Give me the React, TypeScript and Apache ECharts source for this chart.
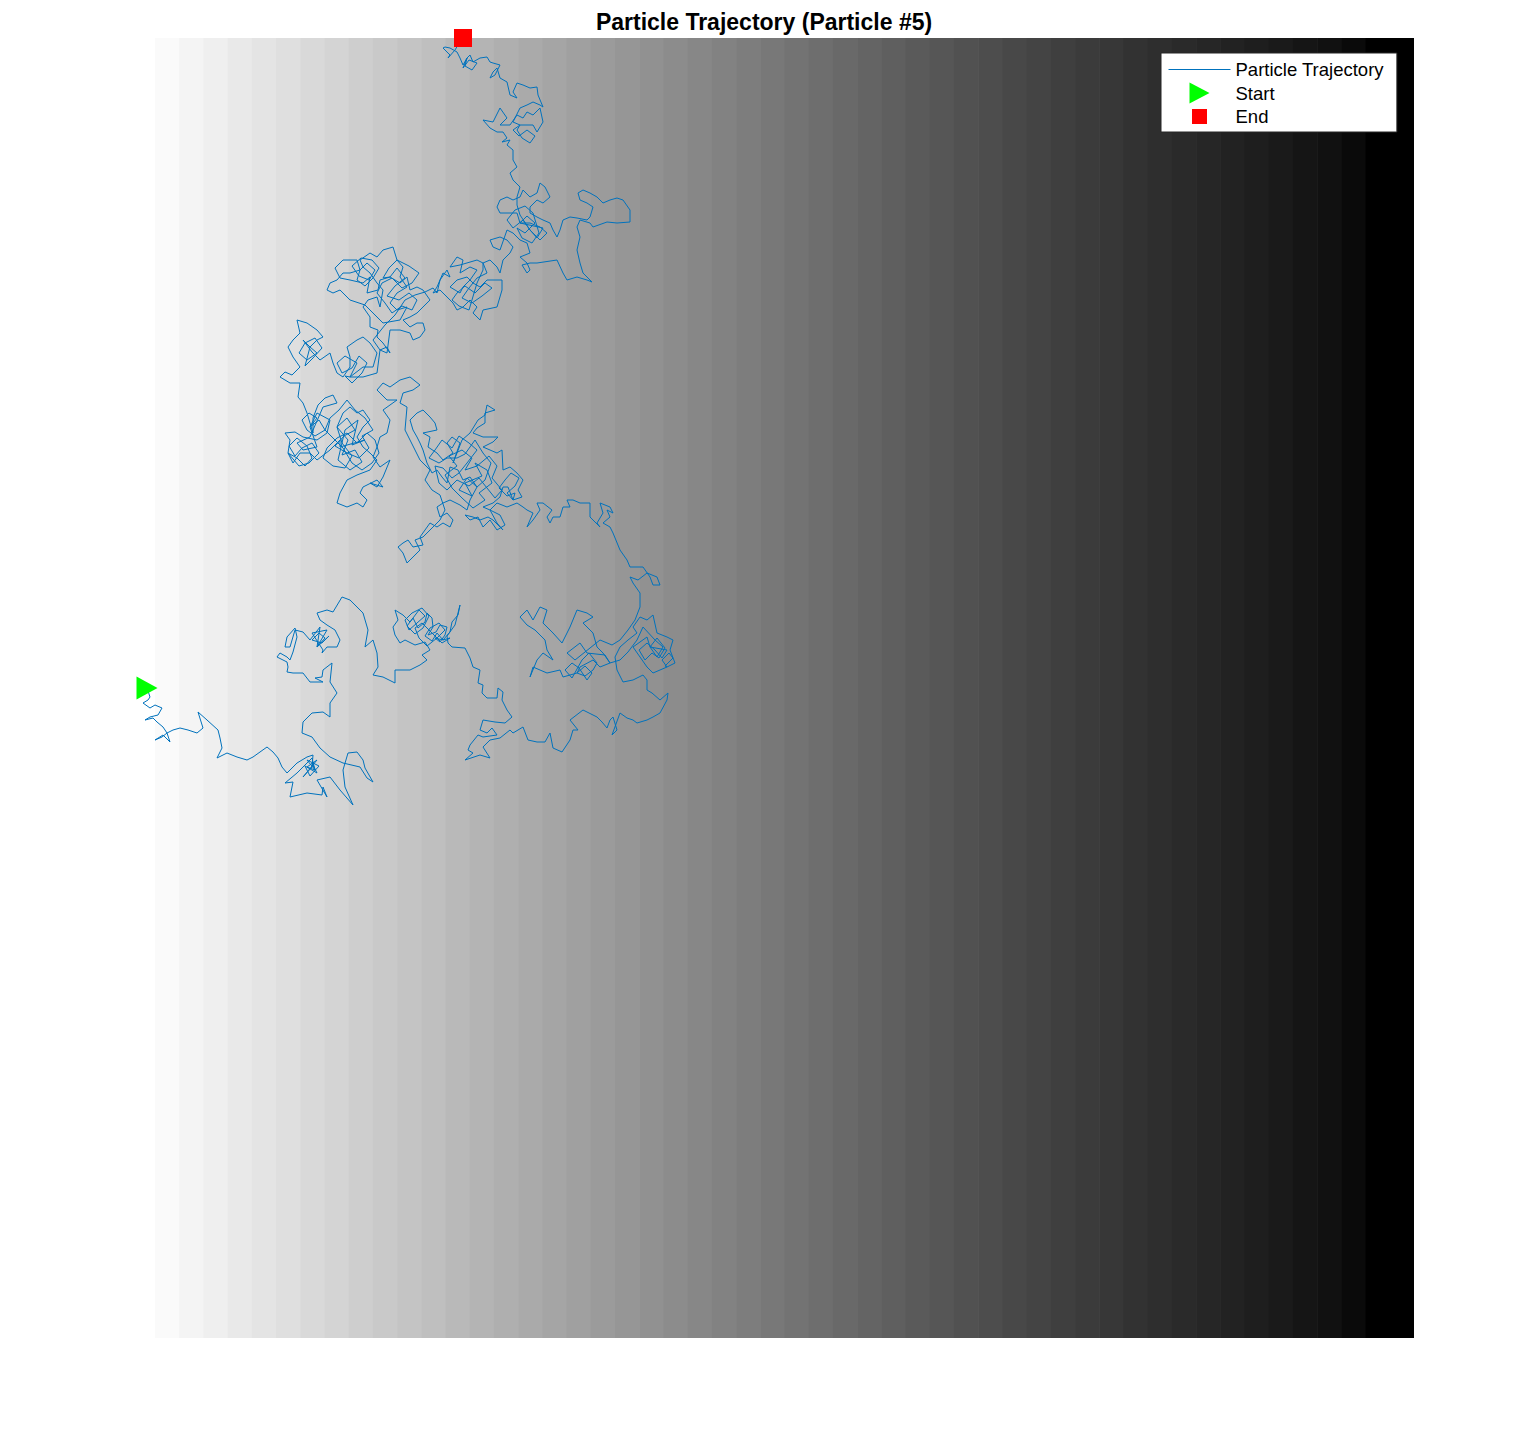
import React, { useEffect, useRef } from "react";
import * as echarts from "echarts";

const TITLE = "Particle Trajectory (Particle #5)";
const LEGEND_NAMES = ["Particle Trajectory", "Start", "End"];
const DOMAIN_Y = [0, 1300];
const IMAGE_X = [8, 1267];
const AXIS_X = [-11, 1267];

// gray level (0-255) of each column of the background field, left to right
const bandGray = [
  250, 244, 239, 233, 228, 223, 217, 212, 206, 201, 196, 191, 185, 180, 175, 170, 165, 160, 155, 150,
  145, 140, 135, 130, 125, 120, 115, 110, 105, 100, 95, 90, 86, 81, 77, 72, 68, 63, 59, 55,
  50, 46, 42, 38, 34, 30, 26, 21, 17, 10, 0, 0,
];

const startPoint = [0, 650];
const endPoint = [316, 0];

const segStart = [
  [0, 650], [3, 659], [1, 662], [-4, 665], [3, 670], [8, 667], [15, 670], [11, 677], [3, 679], [-2, 682],
  [6, 680], [10, 684], [16, 689], [20, 695], [15, 699], [8, 702], [16, 697], [23, 704], [20, 695], [26, 692],
  [33, 690], [41, 692], [50, 695], [56, 690], [51, 674], [60, 682], [71, 692], [73, 700], [75, 710], [70, 720],
  [80, 715], [90, 719], [100, 722], [106, 719], [120, 709], [126, 714], [131, 720], [135, 729], [140, 735],
];

const segLowerLeft = [
  [143, 732], [150, 725], [160, 719], [166, 717], [165, 729], [156, 739], [170, 722], [160, 729], [168, 732],
  [160, 722], [172, 728], [163, 738], [158, 728], [170, 735], [165, 725], [168, 732], [165, 720],
  [150, 735], [138, 745], [146, 744], [143, 759], [160, 755], [175, 757], [176, 749], [180, 759], [170, 742], [183, 739],
  [193, 752], [206, 767], [198, 749], [196, 732], [201, 715], [210, 714], [216, 722], [218, 730], [226, 744], [220, 740],
  [213, 729], [196, 725], [183, 719], [173, 710], [165, 699], [155, 695], [156, 684], [165, 675], [176, 674], [183, 679],
  [183, 665], [190, 655], [183, 644], [185, 625], [176, 632], [175, 639], [168, 640], [176, 644], [163, 644], [156, 635],
  [146, 635], [140, 634], [141, 629], [140, 624], [130, 619], [133, 615], [140, 619], [143, 622], [146, 614], [150, 599],
  [148, 590], [140, 599], [138, 609], [143, 609], [148, 592], [156, 594], [163, 602], [173, 589], [170, 609],
  [178, 600], [172, 595], [165, 602], [175, 605], [182, 598], [170, 609], [180, 592],
  [165, 595], [176, 612], [175, 615], [180, 609], [190, 609], [193, 602], [188, 592], [180, 587], [173, 582], [170, 575],
  [180, 572], [186, 574], [195, 559], [203, 562], [210, 569], [216, 575], [221, 592], [218, 609], [226, 602], [230, 615],
  [231, 629], [226, 637], [236, 639], [248, 645], [248, 632], [263, 632],
];

const segLoop = [
  [273, 627], [280, 622], [275, 617], [283, 612], [278, 604], [268, 607], [258, 602], [253, 605], [248, 597],
  [246, 589], [251, 582], [248, 572], [256, 577], [263, 584], [266, 580],
  [272, 572], [278, 578], [270, 585], [262, 592], [258, 582], [265, 575], [275, 570], [282, 578], [276, 590], [268, 596],
  [260, 588], [266, 580], [271, 590], [278, 584], [280, 575], [285, 580],
  [286, 589], [281, 597], [289, 594], [293, 587], [300, 589], [298, 597], [293, 604], [288, 600], [296, 602],
  [290, 595], [285, 603], [278, 598], [283, 590], [292, 585], [298, 592], [290, 600], [280, 608], [272, 600], [268, 590],
  [275, 585], [285, 595], [295, 605], [303, 600], [296, 602], [303, 594],
  [305, 584], [311, 577], [313, 567], [308, 587], [300, 598], [301, 605], [305, 609], [318, 610], [323, 620], [326, 629],
  [333, 632], [331, 645], [336, 647], [335, 655], [340, 660], [350, 660], [351, 650], [356, 654], [355, 662], [360, 672],
  [365, 679], [358, 685], [348, 684], [336, 682], [333, 692], [340, 695], [345, 690], [350, 697], [336, 699], [331, 697],
  [323, 707], [321, 712], [326, 715], [318, 722], [333, 717], [343, 720], [336, 709], [343, 702], [353, 700], [363, 692],
  [366, 695], [376, 689], [381, 702], [390, 704], [398, 704], [403, 695], [406, 710], [415, 714], [423, 702], [426, 692],
  [431, 692], [423, 682], [436, 672], [450, 679], [455, 684], [460, 690], [463, 682], [466, 679], [470, 692], [465, 697],
  [473, 675], [480, 680], [486, 682], [490, 685], [500, 682], [506, 679], [513, 675], [520, 662], [521, 655], [513, 662],
  [505, 655], [500, 652], [500, 642], [496, 637],
];

const segRightCluster = [
  [486, 642], [476, 644], [470, 632], [468, 619], [473, 609], [481, 602], [490, 595], [486, 589], [493, 579],
  [500, 582], [506, 577], [510, 595], [520, 599], [526, 602], [523, 612], [528, 625], [520, 629],
  [515, 622], [522, 615], [526, 620], [518, 628], [520, 629], [513, 632], [506, 635],
  [500, 629], [493, 619], [486, 609], [500, 599], [503, 609],
  [510, 600], [518, 610], [512, 620], [505, 615], [498, 622], [492, 612], [500, 605], [508, 612], [515, 620], [520, 612],
  [503, 609], [510, 619], [516, 609], [508, 602], [496, 589], [490, 602],
  [481, 614], [473, 622], [463, 625], [456, 615], [450, 609], [446, 595], [436, 585], [446, 579], [440, 575], [430, 572],
  [423, 589], [415, 605], [406, 595], [396, 585], [400, 572], [393, 569], [386, 582], [380, 572], [373, 579], [380, 587],
  [388, 592], [398, 602], [400, 612], [406, 622], [396, 615], [390, 622], [383, 639], [386, 629], [400, 635], [413, 632],
  [416, 639], [430, 635],
  [438, 628], [445, 635], [440, 642], [432, 630], [425, 625], [418, 632], [425, 640], [435, 622], [442, 615], [450, 625],
  [446, 632], [438, 638], [430, 635], [433, 629], [446, 622], [453, 629], [463, 625], [458, 617], [440, 615], [433, 605], [420, 615],
  [428, 622], [443, 610], [453, 602], [465, 607], [473, 602], [481, 592], [488, 582], [493, 569], [493, 555], [486, 545],
  [483, 539], [491, 542], [500, 535], [510, 539], [513, 547], [506, 547], [503, 539], [496, 529], [483, 529], [480, 522],
  [473, 512], [466, 495], [463, 489], [456, 485], [463, 479], [460, 472], [466, 475], [463, 469], [453, 465],
];

const segMiddle = [
  [456, 475], [450, 485], [453, 489], [443, 479], [443, 465], [433, 465], [426, 462], [420, 462], [423, 469], [416, 469],
  [413, 479], [406, 479], [403, 485], [400, 479], [405, 472], [396, 465], [390, 465], [393, 472], [386, 482], [380, 489],
  [386, 475], [380, 472], [376, 469], [370, 465], [360, 469], [350, 465], [343, 472], [353, 477], [358, 487], [350, 492],
  [343, 482], [336, 489], [331, 479], [323, 482], [318, 477], [326, 479], [333, 482], [341, 479], [346, 482], [356, 492],
  [350, 485], [343, 472], [336, 469], [346, 465], [353, 459], [356, 449], [361, 449], [366, 462],
  [360, 455], [368, 448], [372, 440], [364, 435], [358, 442], [352, 450], [360, 458], [368, 455], [366, 462],
  [375, 459], [371, 452],
  [376, 442], [370, 435], [363, 429], [356, 432], [355, 412], [350, 415], [336, 409], [346, 404], [351, 399], [336, 399],
  [326, 395], [330, 390], [338, 385], [338, 375], [348, 372], [340, 367], [338, 377], [331, 382], [323, 395], [315, 402],
  [310, 415], [306, 425], [313, 405], [305, 399], [300, 405], [306, 415], [296, 422], [290, 415], [281, 409], [283, 399],
  [276, 395], [290, 392], [288, 385], [283, 379], [276, 372], [270, 375], [263, 382], [266, 392], [270, 399], [273, 405],
  [276, 412], [280, 425], [285, 435], [290, 432], [295, 439], [300, 445], [303, 429], [311, 432], [316, 442], [323, 439],
  [330, 449],
  [320, 440], [312, 452], [325, 458], [318, 445], [335, 438], [328, 425], [340, 432], [345, 445], [332, 455], [338, 462],
  [326, 470], [315, 460], [305, 450], [298, 437], [310, 428], [302, 418], [315, 412], [325, 420], [318, 432], [330, 428],
  [342, 418], [350, 428], [345, 440], [355, 452], [348, 460], [340, 450], [332, 440], [322, 448], [310, 442], [300, 452],
  [292, 445], [288, 428], [296, 430], [305, 440], [312, 435], [320, 425], [330, 412], [322, 405], [312, 398], [305, 410],
  [295, 402], [288, 412], [282, 420], [292, 425], [300, 420], [310, 420], [318, 416], [328, 402], [336, 415], [344, 425],
  [338, 442], [330, 449], [323, 462], [320, 472], [313, 467], [303, 462], [296, 465], [290, 469], [293, 479], [300, 475], [306, 482],
  [303, 489], [296, 485], [290, 489], [283, 485], [278, 492], [273, 499], [276, 507], [266, 509], [261, 502], [256, 505],
  [251, 509], [256, 515], [260, 525], [266, 519], [273, 512], [268, 502], [276, 499], [283, 492], [293, 482], [298, 472],
  [293, 457], [285, 452], [278, 442], [283, 432], [273, 422], [268, 412], [263, 402], [258, 392], [260, 369], [253, 365],
  [256, 355], [266, 352], [273, 347], [263, 339], [253, 342], [243, 349], [236, 345], [230, 352], [240, 362], [250, 362],
  [236, 372], [243, 382], [240, 395], [233, 399], [230, 409], [226, 419], [233, 429], [243, 422], [236, 439], [230, 449],
  [223, 445],
];

const segMidLeft = [
  [236, 449], [230, 442], [216, 449], [213, 455], [220, 462], [216, 469], [210, 465], [200, 469], [190, 465], [193, 455],
  [200, 442], [210, 437], [223, 432], [230, 422], [223, 415], [216, 409], [210, 399], [216, 389], [223, 382], [216, 372],
  [210, 375], [203, 369], [196, 375], [190, 389],
  [200, 380], [208, 392], [197, 398], [188, 408], [200, 415], [212, 420], [222, 410], [215, 398], [226, 392], [218, 380],
  [208, 372], [200, 362], [192, 372], [183, 380], [178, 392], [186, 400], [196, 410], [205, 425], [215, 432], [225, 425],
  [232, 415], [228, 402], [220, 395], [210, 405], [200, 395], [190, 400], [180, 410], [176, 420], [186, 428], [198, 430],
  [205, 418], [195, 405], [190, 389],
  [201, 402], [195, 417], [208, 412], [215, 424], [203, 432], [191, 422],
  [198, 392], [211, 382], [205, 407], [218, 402], [193, 409], [193, 402], [183, 412], [170, 422], [163, 415], [153, 415],
  [146, 425], [141, 415],
  [150, 420], [158, 428], [165, 420], [160, 408], [150, 400], [142, 408], [148, 418], [155, 410], [165, 405], [172, 415],
  [162, 425], [152, 428], [141, 415], [143, 402], [138, 395], [148, 394], [156, 399], [170, 402], [180, 395], [183, 382], [170, 375],
  [163, 389],
  [172, 382], [178, 392], [168, 398], [160, 392], [155, 382], [162, 375], [170, 380], [163, 389],
  [170, 409], [156, 412], [150, 405], [163, 399], [176, 369], [190, 365], [186, 357], [178, 360], [171, 367],
  [166, 380], [166, 395], [160, 375], [156, 365], [151, 359], [153, 345], [143, 345], [133, 339], [138, 334], [145, 337],
];

const segUpperLeft = [
  [153, 329], [146, 319], [141, 309], [146, 302], [153, 295], [150, 282], [160, 285], [170, 292], [176, 299], [170, 302],
  [163, 309],
  [170, 315], [160, 322], [152, 315], [158, 305], [168, 300], [175, 310], [166, 320], [158, 328], [163, 309],
  [156, 302], [165, 314], [173, 322], [183, 315], [186, 325], [190, 335], [196, 339], [203, 329], [203, 319],
  [200, 309], [210, 302], [216, 299], [223, 305], [230, 315], [226, 329], [216, 329], [203, 339],
  [210, 325], [198, 318], [190, 325], [195, 335], [205, 330], [212, 318], [220, 325], [215, 335], [205, 345], [198, 338],
  [203, 339], [216, 339], [230, 335],
  [233, 312], [240, 309], [243, 315], [236, 305], [230, 299], [231, 292], [223, 289], [223, 279], [216, 269], [221, 262],
  [230, 259], [233, 269], [236, 252], [230, 245], [223, 235], [216, 229], [213, 222], [223, 215], [230, 219], [236, 212],
  [246, 209], [250, 222], [256, 229], [253, 239], [260, 249], [250, 255], [243, 265], [250, 272], [260, 269], [253, 282],
  [236, 285], [228, 277], [218, 267], [203, 262], [193, 252], [186, 255], [180, 252], [183, 245], [190, 242], [196, 235],
  [203, 235], [213, 232],
  [220, 225], [228, 232], [222, 242], [212, 238], [205, 228], [214, 220], [225, 222], [232, 230], [226, 240], [218, 248],
  [210, 242], [213, 232], [210, 222], [196, 222], [188, 230], [193, 240], [203, 242], [216, 245], [223, 239], [220, 255],
  [231, 252], [233, 242], [243, 239],
  [250, 230], [258, 240], [248, 248], [240, 258], [252, 262], [262, 255], [270, 262], [265, 272], [255, 268], [245, 275],
  [238, 265], [230, 255], [235, 245], [245, 240], [255, 250], [265, 245], [272, 235], [262, 228], [250, 222], [242, 230],
  [236, 240], [243, 239], [253, 245], [260, 239], [263, 252], [270, 249], [276, 252], [283, 262], [276, 269],
  [270, 275], [263, 279], [256, 282], [263, 289], [270, 285], [276, 285], [278, 292], [273, 299], [266, 302], [263, 295],
  [253, 292], [243, 292], [240, 315], [233, 312], [226, 302], [238, 287], [248, 277], [258, 262], [268, 257], [278, 254],
  [286, 250], [290, 255], [293, 242], [300, 232], [303, 239],
];

const segUpperMiddle = [
  [296, 235], [290, 249], [286, 255], [293, 252], [300, 259], [306, 265], [310, 272], [316, 269], [323, 262], [330, 269],
  [326, 275], [333, 282], [336, 272], [350, 269], [355, 252], [355, 242], [346, 242], [340, 242], [333, 249], [326, 245],
  [320, 239], [310, 242], [303, 249], [313, 255], [316, 249], [323, 242], [330, 232], [323, 229], [313, 235], [316, 222],
  [310, 219], [303, 229], [313, 227], [330, 222], [336, 225],
  [340, 235], [330, 240], [322, 250], [315, 260], [325, 265], [335, 258], [345, 250], [338, 245], [328, 255], [318, 248],
  [310, 255], [305, 262], [312, 268], [322, 272], [330, 245], [336, 232], [336, 225],
  [343, 222], [350, 229], [353, 235], [356, 222], [363, 215],
  [366, 209], [360, 202], [353, 199], [343, 202], [346, 209], [353, 212], [360, 192], [366, 195], [373, 202], [380, 205],
  [383, 215], [373, 219], [380, 225], [383, 232], [380, 235], [375, 227], [383, 225], [390, 225], [410, 222], [416, 235],
  [420, 242], [430, 239], [440, 242], [445, 244], [436, 235], [433, 225], [430, 212], [433, 199], [430, 189], [433, 182],
  [443, 185], [446, 189], [460, 184], [470, 185], [483, 184], [483, 172], [476, 162], [470, 160], [463, 162], [456, 165],
  [450, 159], [443, 155], [436, 152], [431, 155], [433, 162], [440, 165], [446, 169], [443, 179], [440, 182], [430, 180],
  [423, 179], [416, 182], [413, 192], [410, 199], [406, 192], [403, 185], [396, 182], [390, 179], [383, 175], [383, 169],
  [390, 162], [396, 165], [403, 159], [398, 149], [393, 145], [390, 155], [383, 159], [376, 152], [373, 159], [366, 162],
  [360, 159], [353, 162], [350, 169], [353, 175], [360, 175], [370, 175], [373, 185],
  [380, 178], [388, 185], [378, 195], [370, 190], [375, 200], [385, 205], [392, 195], [386, 175], [378, 168], [368, 172],
  [360, 182], [366, 190], [376, 182], [383, 192], [390, 200], [396, 190], [373, 185],
  [383, 185], [393, 189], [400, 195],
  [393, 202], [383, 192], [373, 177], [370, 167], [370, 159], [373, 149], [366, 142], [363, 135], [370, 129], [366, 122],
  [366, 112], [360, 107], [363, 102], [355, 104],
];

const segTop = [
  [360, 100], [356, 94], [350, 94], [343, 90], [336, 82], [346, 84], [353, 70], [360, 80], [353, 87], [363, 87],
  [370, 77], [376, 80], [380, 74], [386, 77], [393, 70], [396, 84], [390, 94], [386, 87], [380, 87], [373, 87],
  [366, 92], [372, 98], [380, 92], [388, 98], [383, 105], [375, 100], [370, 92], [373, 87],
  [366, 84], [373, 70], [380, 67], [386, 64], [393, 67], [396, 69], [391, 57], [390, 49], [383, 50], [376, 47],
  [370, 45], [366, 54], [370, 60], [363, 57], [360, 44], [353, 40], [350, 30], [346, 34], [343, 40], [348, 37],
  [353, 27], [346, 25], [343, 24], [340, 19], [333, 20], [326, 24], [323, 17], [320, 20],
  [318, 28], [325, 32], [330, 25], [322, 22], [316, 30], [320, 20], [316, 27], [313, 20],
  [310, 14], [303, 10], [298, 9], [296, 10], [303, 17], [301, 20], [308, 12], [311, 7], [315, 5], [316, 0],
];

const trajectory = [
  ...segStart, ...segLowerLeft, ...segLoop, ...segRightCluster, ...segMiddle,
  ...segMidLeft, ...segUpperLeft, ...segUpperMiddle, ...segTop,
];

const FONT = "'Liberation Sans', Arial, Helvetica, sans-serif";
const LINE_COLOR = "#0072BD";

export default function App() {
  const ref = useRef<HTMLDivElement>(null);
  useEffect(() => {
    if (!ref.current) return;
    const chart = echarts.init(ref.current, null, { renderer: "svg" });
    const bandW = (IMAGE_X[1] - IMAGE_X[0]) / bandGray.length;
    chart.setOption({
      animation: false,
      backgroundColor: "#ffffff",
      title: {
        text: TITLE,
        left: 764,
        top: 10,
        padding: 0,
        textAlign: "center",
        textStyle: { fontSize: 23, fontWeight: "bold", color: "#000", fontFamily: FONT },
      },
      legend: {
        data: [
          { name: LEGEND_NAMES[0], itemStyle: { opacity: 0 }, lineStyle: { color: LINE_COLOR, width: 1 } },
          { name: LEGEND_NAMES[1], icon: "path://M0 0L20 10.5L0 21Z", itemStyle: { color: "#00FF00" } },
          { name: LEGEND_NAMES[2], icon: "path://M0 0L0 0M3 3H18V18H3ZM21 21L21 21", itemStyle: { color: "#FF0000" } },
        ],
        orient: "vertical",
        left: 1161,
        top: 53,
        padding: [6, 13, 5, 7],
        itemWidth: 62,
        itemHeight: 21,
        itemGap: 2.5,
        backgroundColor: "#ffffff",
        borderColor: "#262626",
        borderWidth: 1,
        selectedMode: false,
        textStyle: { fontSize: 18.5, lineHeight: 21, color: "#000", fontFamily: FONT },
      },
      grid: { left: 136, top: 38, width: 1278, height: 1300, containLabel: false },
      xAxis: { type: "value", min: AXIS_X[0], max: AXIS_X[1], show: false },
      yAxis: { type: "value", min: DOMAIN_Y[0], max: DOMAIN_Y[1], inverse: true, show: false },
      series: [
        {
          type: "custom",
          name: "field",
          silent: true,
          z: 1,
          clip: false,
          data: bandGray.map((g, i) => [i, g]),
          renderItem: (params: any, api: any) => {
            const i = api.value(0);
            const g = api.value(1);
            const x0 = IMAGE_X[0] + i * bandW;
            const p0 = api.coord([x0, DOMAIN_Y[0]]);
            const p1 = api.coord([x0 + bandW, DOMAIN_Y[1]]);
            const extra = i < bandGray.length - 1 ? 0.6 : 0;
            return {
              type: "rect",
              shape: {
                x: p0[0],
                y: Math.min(p0[1], p1[1]),
                width: p1[0] - p0[0] + extra,
                height: Math.abs(p1[1] - p0[1]),
              },
              style: { fill: `rgb(${g},${g},${g})` },
            };
          },
        },
        {
          type: "line",
          name: LEGEND_NAMES[0],
          data: trajectory,
          symbol: "none",
          showSymbol: false,
          smooth: false,
          z: 2,
          lineStyle: { color: LINE_COLOR, width: 1 },
          itemStyle: { color: LINE_COLOR },
        },
        {
          type: "scatter",
          name: LEGEND_NAMES[1],
          data: [startPoint],
          symbol: "triangle",
          symbolSize: [23, 21],
          symbolRotate: -90,
          clip: false,
          z: 3,
          itemStyle: { color: "#00FF00", opacity: 1 },
        },
        {
          type: "scatter",
          name: LEGEND_NAMES[2],
          data: [endPoint],
          symbol: "rect",
          symbolSize: 18,
          clip: false,
          z: 3,
          itemStyle: { color: "#FF0000", opacity: 1 },
        },
      ],
    });
    return () => chart.dispose();
  }, []);
  return (
    <div
      ref={ref}
      style={{ position: "absolute", left: 0, top: 0, width: 1527, height: 1437 }}
    />
  );
}
